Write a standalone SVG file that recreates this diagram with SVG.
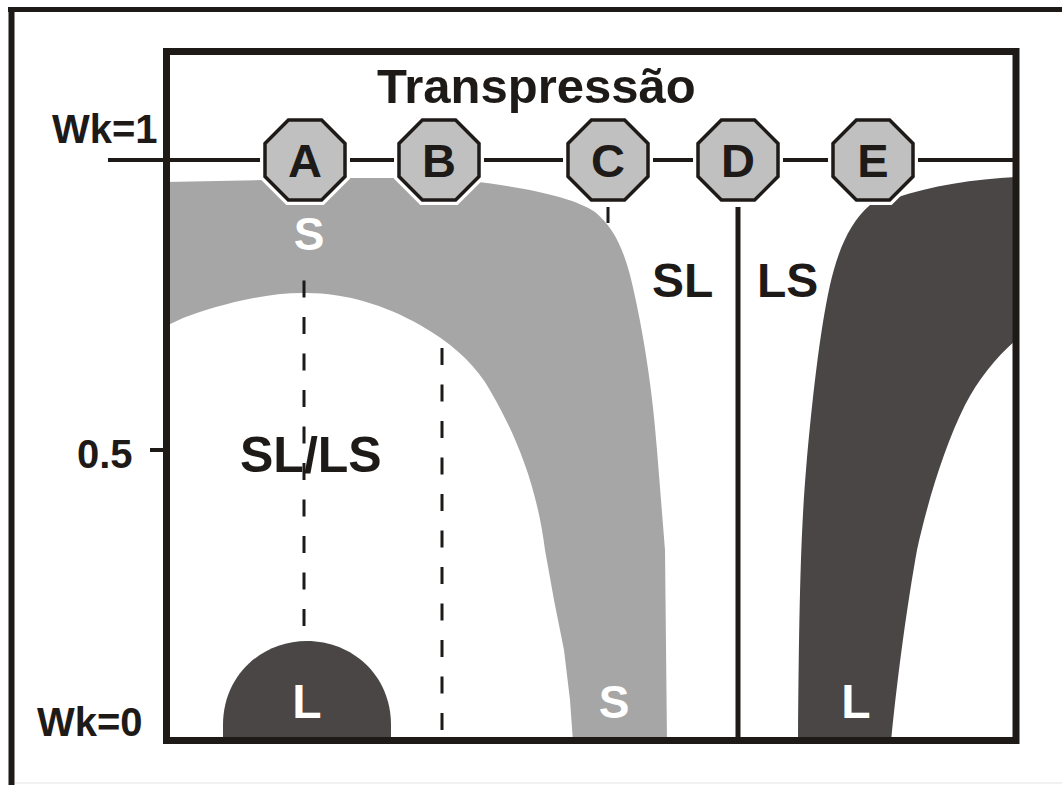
<svg xmlns="http://www.w3.org/2000/svg" width="1062" height="785" viewBox="0 0 1062 785">
  <style>
    .frame { fill: none; stroke: #1e1a18; stroke-width: 7; }
    .rule { fill: none; stroke: #1e1a18; stroke-width: 4; }
    .dash { fill: none; stroke: #1e1a18; stroke-width: 3; stroke-dasharray: 17 19.5; }
    .band-s { fill: #a6a6a6; }
    .band-l { fill: #4a4646; }
    .oct-halo { fill: none; stroke: #ffffff; stroke-width: 10; stroke-linejoin: miter; }
    .oct { fill: #c0c0c0; stroke: #1e1a18; stroke-width: 3.5; stroke-linejoin: miter; }
    .lbl { font-family: "Liberation Sans", Arial, sans-serif; font-weight: bold; fill: #1e1a18; }
    .inv { fill: #ffffff; }
    .mid { text-anchor: middle; }
  </style>
  <defs>
    <polygon id="octagon" points="-16.6,-40 16.6,-40 40,-16.6 40,16.6 16.6,40 -16.6,40 -40,16.6 -40,-16.6"/>
  </defs>

  <rect x="0" y="0" width="1062" height="785" fill="#ffffff"/>

  <!-- outer border (top and left edges only) -->
  <g id="outer-border">
    <line x1="8" y1="9.5" x2="1062" y2="9.5" stroke="#1e1a18" stroke-width="5"/>
    <line x1="11.5" y1="7" x2="11.5" y2="785" stroke="#1e1a18" stroke-width="6"/>
    <line x1="15" y1="783" x2="1062" y2="783" stroke="#ececec" stroke-width="1.5"/>
  </g>

  <!-- stability fields -->
  <g id="field-s">
    <path class="band-s" d="M166,182 L262,180 L345,178 L400,178 L470,181 C530,188 575,198 595,212 C612,226 622,245 630,275 C640,315 652,380 657,450 L665,550 L667,742 L573,742 L570,700 L564,650 L554,600 L545,550 C535,470 505,415 485,382 C470,360 450,342 420,325 C385,305 345,293 307,293 C260,292 210,308 183,318 L166,326 Z"/>
  </g>
  <g id="field-l-right">
    <path class="band-l" d="M1016,177 C975,179 930,186 895,198 L870,205 C850,222 838,250 830,285 C820,330 812,400 806,470 C801,530 799,600 798,742 L891,742 C898,670 908,600 917,550 C928,500 945,445 965,405 C978,380 995,358 1016,340 Z"/>
  </g>
  <g id="field-l-left">
    <path class="band-l" d="M223,742 L223,725 C223,675 262,641 307,641 C352,641 391,675 391,725 L391,742 Z"/>
  </g>

  <!-- connectors -->
  <g id="connectors">
    <line class="rule" x1="108" y1="160" x2="1016" y2="160"/>
    <line class="rule" x1="150" y1="450" x2="166" y2="450"/>
    <line class="dash" x1="304" y1="280.5" x2="304" y2="627"/>
    <line class="dash" x1="442" y1="348" x2="442" y2="731"/>
    <line x1="608" y1="207" x2="608" y2="223" stroke="#1e1a18" stroke-width="3"/>
    <line x1="738" y1="207" x2="738" y2="740" stroke="#1e1a18" stroke-width="5"/>
  </g>

  <!-- plot frame -->
  <rect id="plot-frame" class="frame" x="166.5" y="51.5" width="849.5" height="689"/>

  <!-- regime nodes on Wk=1 -->
  <g id="node-A" transform="translate(305,160)">
    <use href="#octagon" class="oct-halo"/><use href="#octagon" class="oct"/>
    <text class="lbl mid" x="0" y="17" font-size="47">A</text>
  </g>
  <g id="node-B" transform="translate(439,160)">
    <use href="#octagon" class="oct-halo"/><use href="#octagon" class="oct"/>
    <text class="lbl mid" x="0" y="17" font-size="47">B</text>
  </g>
  <g id="node-C" transform="translate(608,160)">
    <use href="#octagon" class="oct-halo"/><use href="#octagon" class="oct"/>
    <text class="lbl mid" x="0" y="17" font-size="47">C</text>
  </g>
  <g id="node-D" transform="translate(738,160)">
    <use href="#octagon" class="oct-halo"/><use href="#octagon" class="oct"/>
    <text class="lbl mid" x="0" y="17" font-size="47">D</text>
  </g>
  <g id="node-E" transform="translate(873,160)">
    <use href="#octagon" class="oct-halo"/><use href="#octagon" class="oct"/>
    <text class="lbl mid" x="0" y="17" font-size="47">E</text>
  </g>

  <!-- labels -->
  <g id="labels">
    <text class="lbl" x="377" y="103" font-size="49">Transpressão</text>
    <text class="lbl" x="52" y="143" font-size="40">Wk=1</text>
    <text class="lbl" x="77" y="468" font-size="40">0.5</text>
    <text class="lbl" x="37" y="736" font-size="40">Wk=0</text>
    <text class="lbl" x="240" y="472" font-size="50">SL/LS</text>
    <text class="lbl" x="652" y="297" font-size="48">SL</text>
    <text class="lbl" x="757" y="297" font-size="48">LS</text>
    <text class="lbl inv mid" x="309" y="250" font-size="46">S</text>
    <text class="lbl inv mid" x="614" y="718" font-size="46">S</text>
    <text class="lbl inv mid" x="307" y="718" font-size="48">L</text>
    <text class="lbl inv mid" x="856" y="718" font-size="48">L</text>
  </g>
</svg>
